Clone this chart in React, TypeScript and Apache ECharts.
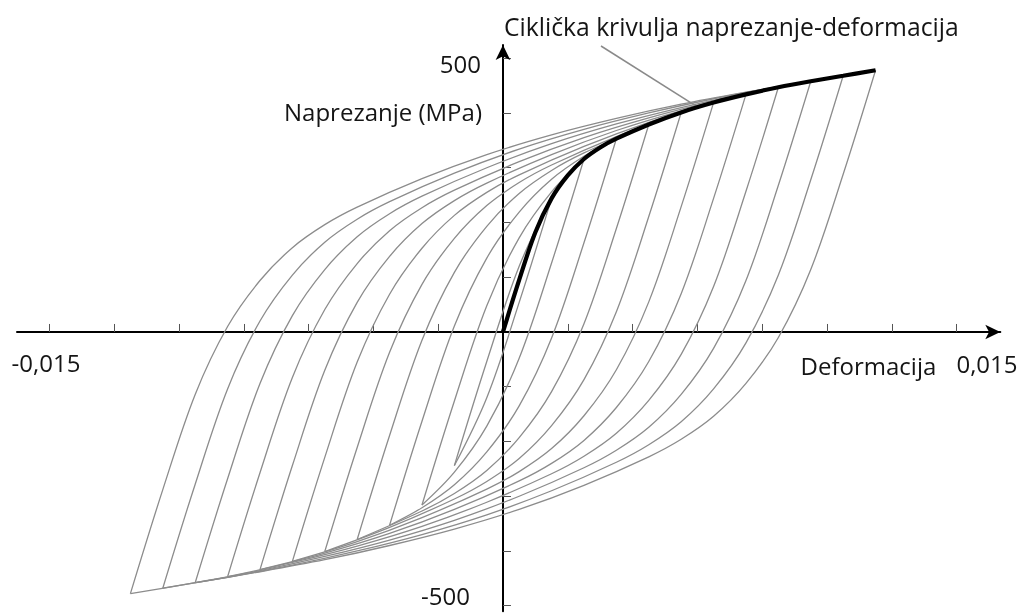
import React, { useEffect, useRef } from "react";
import * as echarts from "echarts";

// Cyclic stress-strain curve (thick black)
const cyclicStrain = [0, 0.0005, 0.001, 0.0015, 0.002, 0.0025, 0.003, 0.0035, 0.0045, 0.0055, 0.0065, 0.0075, 0.0085, 0.0095, 0.0105, 0.0115];
const cyclicStress = [0, 95, 182, 244, 286, 316, 337, 353, 379, 401, 419, 434, 447, 458, 468, 478];
// Loop tips (strain amplitudes) – each tip lies on the cyclic curve
const loopTipStrain = [0.0015, 0.0025, 0.0035, 0.0045, 0.0055, 0.0065, 0.0075, 0.0085, 0.0095, 0.0105, 0.0115];
// Axis ticks and labels
const xTickValues = [-0.014, -0.012, -0.01, -0.008, -0.006, -0.004, -0.002, 0.002, 0.004, 0.006, 0.008, 0.01, 0.012, 0.014];
const xLabelValues = [-0.015, 0.015];
const yTickValues = [-500, -400, -300, -200, -100, 100, 200, 300, 400, 500];
const yLabelValues = [-500, 500];

const FONT = "Open Sans";
const FS = 24;
const TXT = "#151515";

export default function App() {
  const ref = useRef<HTMLDivElement>(null);
  useEffect(() => {
    document.body.style.margin = "0";
    const chart = echarts.init(ref.current!, undefined, { renderer: "svg" });
    const series: any[] = [];
    loopTipStrain.forEach((tipE, li) => {
      const k = cyclicStrain.findIndex((e) => Math.abs(e - tipE) < 1e-9);
      const tipS = cyclicStress[k];
      const down: number[][] = [];
      const up: number[][] = [];
      // Masing loop: reversal branches are the cyclic curve doubled, from each tip
      for (let j = 0; j <= k; j++) {
        down.push([tipE - 2 * cyclicStrain[j], tipS - 2 * cyclicStress[j]]);
        up.push([-tipE + 2 * cyclicStrain[j], -tipS + 2 * cyclicStress[j]]);
      }
      [down, up].forEach((d, bi) => {
        series.push({
          type: "line",
          name: "loop" + li + "_" + bi,
          data: d,
          showSymbol: false,
          smooth: 0.35,
          lineStyle: { color: "#8c8c8c", width: 1.3 },
          silent: true,
          z: 2,
        });
      });
    });
    series.push({
      type: "line",
      name: "Ciklička krivulja",
      data: cyclicStrain.map((e, i) => [e, cyclicStress[i]]),
      showSymbol: false,
      smooth: 0.35,
      lineStyle: { color: "#000", width: 4.2 },
      z: 5,
    });

    chart.setOption({
      animation: false,
      textStyle: { fontFamily: FONT },
      title: {
        text: "Ciklička krivulja naprezanje-deformacija",
        left: 499,
        top: 9,
        textStyle: { fontFamily: FONT, fontSize: 24.7, fontWeight: "normal", color: TXT },
      },
      grid: { left: 17, right: 27.7, top: 45.1, bottom: 1.8, containLabel: false, outerBoundsMode: "none" },
      xAxis: {
        type: "value",
        min: -0.015,
        max: 0.01535,
        splitLine: { show: false },
        axisLine: { onZero: true, lineStyle: { color: "#000", width: 2 }, symbol: ["none", "arrow"], symbolSize: [11, 15] },
        axisTick: { show: true, inside: true, length: 8, lineStyle: { color: "#555", width: 1 }, customValues: xTickValues },
        axisLabel: { show: false },
        name: "Deformacija",
        nameLocation: "end",
        nameGap: -64,
        nameTextStyle: { fontFamily: FONT, fontSize: FS, color: TXT, align: "right", verticalAlign: "top", padding: [22, 0, 0, 0] },
      },
      yAxis: {
        type: "value",
        min: -510,
        max: 524,
        splitLine: { show: false },
        axisLine: { onZero: true, lineStyle: { color: "#000", width: 2 }, symbol: ["none", "arrow"], symbolSize: [11, 15] },
        axisTick: { show: true, inside: true, length: 8, lineStyle: { color: "#555", width: 1 }, customValues: yTickValues },
        axisLabel: { show: false },
        name: "Naprezanje (MPa)",
        nameLocation: "end",
        nameGap: -66,
        nameTextStyle: { fontFamily: FONT, fontSize: FS, color: TXT, align: "right", verticalAlign: "middle", padding: [0, 21, 0, 0] },
      },
      series,
    });

    const px = (v: number[]) => chart.convertToPixel({ gridIndex: 0 }, v) as number[];
    const fmt = (v: number) => String(v).replace(".", ",");
    const xl0 = px([xLabelValues[0], 0]);
    const xl1 = px([xLabelValues[1], 0]);
    const yl1 = px([0, yLabelValues[1]]);
    const yl0 = px([0, yLabelValues[0]]);
    const end = px([0.006, 411]);
    const label = (t: string, x: number, y: number, align: string) => ({
      type: "text",
      x,
      y,
      style: { text: t, fontFamily: FONT, fontSize: FS, fill: TXT, align, verticalAlign: "middle" },
      z: 10,
    });
    chart.setOption({
      graphic: [
        label(fmt(xLabelValues[0]), xl0[0] + 29, xl0[1] + 31, "center"),
        label(fmt(xLabelValues[1]), xl1[0] - 2, xl1[1] + 32, "center"),
        label(String(yLabelValues[1]), yl1[0] - 22, yl1[1] + 5, "right"),
        label(String(yLabelValues[0]), yl0[0] - 33, yl0[1] - 10, "right"),
        {
          type: "line",
          shape: { x1: 601, y1: 46, x2: end[0], y2: end[1] },
          style: { stroke: "#8a8a8a", lineWidth: 1.5 },
          z: 1,
        },
      ],
    });
    return () => chart.dispose();
  }, []);
  return <div ref={ref} style={{ position: "fixed", left: 0, top: 0, width: 1028, height: 613 }} />;
}
